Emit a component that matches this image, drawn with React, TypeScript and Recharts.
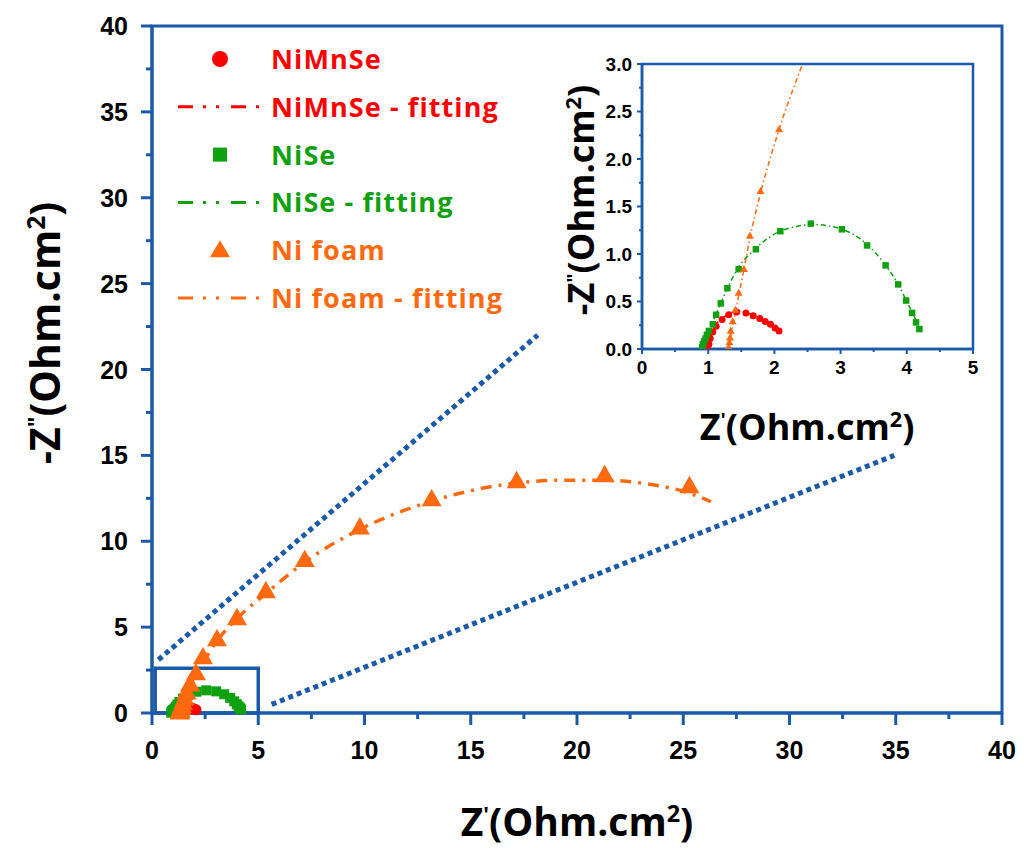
import React from "react"
import {
  ComposedChart,
  Scatter,
  Line,
  XAxis,
  YAxis,
  ReferenceLine,
  ReferenceArea,
} from "recharts"

// ─── Colours / fonts ─────────────────────────────────────────────────────────
const BLUE = "#1b5aa8"
const RED = "#ff0000"
const GREEN = "#10a010"
const ORANGE = "#ff6a10"
const TICK_FONT = "'Liberation Sans', Arial, sans-serif"
const TITLE_FONT = "'Open Sans', 'Noto Sans', sans-serif"

// ─── Data (Z', -Z'' in Ohm.cm²) ──────────────────────────────────────────────
const niMnSePoints = [
  { x: 0.99, y: 0.02 }, { x: 1.01, y: 0.05 }, { x: 1.03, y: 0.11 }, { x: 1.07, y: 0.18 },
  { x: 1.12, y: 0.24 }, { x: 1.21, y: 0.31 }, { x: 1.31, y: 0.36 }, { x: 1.43, y: 0.39 },
  { x: 1.57, y: 0.38 }, { x: 1.68, y: 0.35 }, { x: 1.78, y: 0.32 }, { x: 1.86, y: 0.29 },
  { x: 1.94, y: 0.26 }, { x: 2.01, y: 0.22 }, { x: 2.07, y: 0.19 },
]
const niMnSeFit = [
  { x: 0.98, y: 0 }, { x: 1.03, y: 0.12 }, { x: 1.1, y: 0.24 }, { x: 1.21, y: 0.32 },
  { x: 1.31, y: 0.37 }, { x: 1.45, y: 0.4 }, { x: 1.57, y: 0.385 }, { x: 1.7, y: 0.345 },
  { x: 1.86, y: 0.29 }, { x: 2.07, y: 0.19 },
]

const niSePoints = [
  { x: 0.91, y: 0.02 }, { x: 0.92, y: 0.05 }, { x: 0.94, y: 0.08 }, { x: 0.96, y: 0.11 },
  { x: 0.98, y: 0.15 }, { x: 1.01, y: 0.19 }, { x: 1.07, y: 0.26 }, { x: 1.12, y: 0.36 },
  { x: 1.19, y: 0.48 }, { x: 1.29, y: 0.64 }, { x: 1.46, y: 0.84 }, { x: 1.72, y: 1.05 },
  { x: 2.09, y: 1.24 }, { x: 2.55, y: 1.32 }, { x: 3.02, y: 1.26 }, { x: 3.4, y: 1.09 },
  { x: 3.68, y: 0.88 }, { x: 3.87, y: 0.68 }, { x: 3.99, y: 0.51 }, { x: 4.08, y: 0.38 },
  { x: 4.14, y: 0.28 }, { x: 4.19, y: 0.21 },
]
const niSeFit = [
  { x: 0.88, y: 0 }, { x: 0.95, y: 0.1 }, { x: 1.05, y: 0.25 }, { x: 1.2, y: 0.5 },
  { x: 1.45, y: 0.85 }, { x: 1.72, y: 1.06 }, { x: 2.09, y: 1.24 }, { x: 2.6, y: 1.31 },
  { x: 3.02, y: 1.26 }, { x: 3.4, y: 1.1 }, { x: 3.68, y: 0.88 }, { x: 3.87, y: 0.68 },
  { x: 4.0, y: 0.5 }, { x: 4.1, y: 0.36 }, { x: 4.2, y: 0.2 },
]

const niFoamPoints = [
  { x: 1.31, y: 0.02 }, { x: 1.32, y: 0.07 }, { x: 1.33, y: 0.12 }, { x: 1.34, y: 0.19 },
  { x: 1.37, y: 0.29 }, { x: 1.41, y: 0.41 }, { x: 1.46, y: 0.59 }, { x: 1.54, y: 0.84 },
  { x: 1.63, y: 1.19 }, { x: 1.79, y: 1.66 }, { x: 2.07, y: 2.31 }, { x: 2.4, y: 3.24 },
  { x: 3.06, y: 4.29 }, { x: 4.0, y: 5.52 }, { x: 5.36, y: 7.09 }, { x: 7.19, y: 8.9 },
  { x: 9.78, y: 10.8 }, { x: 13.16, y: 12.44 }, { x: 17.16, y: 13.49 }, { x: 21.3, y: 13.84 },
  { x: 25.29, y: 13.2 },
]
const niFoamFit = [
  { x: 1.3, y: 0 }, { x: 1.4, y: 0.35 }, { x: 1.54, y: 0.84 }, { x: 1.63, y: 1.17 },
  { x: 1.79, y: 1.64 }, { x: 2.07, y: 2.31 }, { x: 2.45, y: 3.05 }, { x: 3.06, y: 4.2 },
  { x: 4.0, y: 5.5 }, { x: 5.4, y: 7.0 }, { x: 7.2, y: 8.8 }, { x: 9.8, y: 10.7 },
  { x: 13.2, y: 12.35 }, { x: 17.2, y: 13.4 }, { x: 19.2, y: 13.55 }, { x: 21.3, y: 13.55 },
  { x: 23.5, y: 13.3 }, { x: 25.3, y: 12.8 }, { x: 26.3, y: 12.3 },
]

// dotted guide lines pointing from the zoom box to the inset
const guideUpper = [{ x: 0.3, y: 3.1 }, { x: 18.15, y: 22.0 }]
const guideLower = [{ x: 5.63, y: 0.5 }, { x: 34.93, y: 15.0 }]
const zoomBox = { x1: 0.15, x2: 5, y1: 0, y2: 2.6 }

// ticks
const mainTicks = [0, 2.5, 5, 7.5, 10, 12.5, 15, 17.5, 20, 22.5, 25, 27.5, 30, 32.5, 35, 37.5, 40]
const insetXTicks = [0, 0.5, 1, 1.5, 2, 2.5, 3, 3.5, 4, 4.5, 5]
const insetYTicks = [0, 0.25, 0.5, 0.75, 1, 1.25, 1.5, 1.75, 2, 2.25, 2.5, 2.75, 3]

const legendItems = [
  { label: "NiMnSe", color: RED, kind: "circle" },
  { label: "NiMnSe - fitting", color: RED, kind: "line" },
  { label: "NiSe", color: GREEN, kind: "square" },
  { label: "NiSe - fitting", color: GREEN, kind: "line" },
  { label: "Ni foam", color: ORANGE, kind: "triangle" },
  { label: "Ni foam - fitting", color: ORANGE, kind: "line" },
]

// ─── Marker shapes ───────────────────────────────────────────────────────────
const circleShape = (r: number, fill: string) => (p: any) =>
  <circle cx={p.cx} cy={p.cy} r={r} fill={fill} />
const squareShape = (s: number, fill: string) => (p: any) =>
  <rect x={p.cx - s / 2} y={p.cy - s / 2} width={s} height={s} fill={fill} />
const triangleShape = (s: number, fill: string) => (p: any) => {
  const h = s * 0.87
  return (
    <polygon
      points={`${p.cx},${p.cy - h * 0.6} ${p.cx - s / 2},${p.cy + h * 0.4} ${p.cx + s / 2},${p.cy + h * 0.4}`}
      fill={fill}
    />
  )
}

// ─── Tick renderers ──────────────────────────────────────────────────────────
function MainXTick({ x, y, payload }: any) {
  const v = payload.value
  const major = v % 5 === 0
  return (
    <g>
      <line x1={x} x2={x} y1={y} y2={y + (major ? 12 : 6)} stroke={BLUE} strokeWidth={3} />
      {major && (
        <text x={x} y={y + 46} textAnchor="middle" fontFamily={TICK_FONT} fontWeight={700} fontSize={25} fill="#000">
          {v}
        </text>
      )}
    </g>
  )
}

function MainYTick({ x, y, payload }: any) {
  const v = payload.value
  const major = v % 5 === 0
  return (
    <g>
      <line x1={x - (major ? 11 : 6)} x2={x} y1={y} y2={y} stroke={BLUE} strokeWidth={3} />
      {major && (
        <text x={x - 24} y={y + 9} textAnchor="end" fontFamily={TICK_FONT} fontWeight={700} fontSize={25} fill="#000">
          {v}
        </text>
      )}
    </g>
  )
}

const isMult = (v: number, step: number) => Math.abs(v / step - Math.round(v / step)) < 1e-6

function InsetXTick({ x, y, payload }: any) {
  const v = payload.value
  const major = isMult(v, 1)
  return (
    <g>
      <line x1={x} x2={x} y1={y} y2={y + (major ? 5 : 3)} stroke={BLUE} strokeWidth={2} />
      {major && (
        <text x={x} y={y + 25} textAnchor="middle" fontFamily={TICK_FONT} fontWeight={700} fontSize={19} fill="#000">
          {v}
        </text>
      )}
    </g>
  )
}

function InsetYTick({ x, y, payload }: any) {
  const v = payload.value
  const major = isMult(v, 0.5)
  return (
    <g>
      <line x1={x - (major ? 5 : 3)} x2={x} y1={y} y2={y} stroke={BLUE} strokeWidth={2} />
      {major && (
        <text x={x - 10} y={y + 6.5} textAnchor="end" fontFamily={TICK_FONT} fontWeight={700} fontSize={19} fill="#000">
          {v.toFixed(1)}
        </text>
      )}
    </g>
  )
}

// ─── Titles + legend overlay ─────────────────────────────────────────────────
function ZPrimeTitle({ x, y, size, rotate, double }: { x: number; y: number; size: number; rotate?: boolean; double?: boolean }) {
  const sup = size * 0.36
  return (
    <text
      x={x}
      y={y}
      textAnchor="middle"
      fontFamily={TITLE_FONT}
      fontWeight={700}
      fontSize={size}
      fill="#000"
      transform={rotate ? `rotate(-90 ${x} ${y})` : undefined}
    >
      {double ? "-Z" : "Z"}
      <tspan dy={-sup} fontSize={size * 0.55}>{double ? "\"" : "'"}</tspan>
      <tspan dy={sup}>(Ohm.cm</tspan>
      <tspan dy={-sup} fontSize={size * 0.6}>2</tspan>
      <tspan dy={sup}>)</tspan>
    </text>
  )
}

function LegendOverlay() {
  const rowY0 = 59
  const step = 47.8
  return (
    <g>
      {legendItems.map((it, i) => {
        const cy = rowY0 + i * step
        let mark: React.ReactNode = null
        if (it.kind === "circle") mark = <circle cx={220} cy={cy} r={8} fill={it.color} />
        if (it.kind === "square") mark = <rect x={213} y={cy - 7} width={14} height={14} fill={it.color} />
        if (it.kind === "triangle")
          mark = <polygon points={`220,${cy - 10} 210,${cy + 7} 230,${cy + 7}`} fill={it.color} />
        if (it.kind === "line")
          mark = (
            <line x1={178} x2={262} y1={cy} y2={cy} stroke={it.color} strokeWidth={3} strokeDasharray="15 10 3 10 3 12" />
          )
        return (
          <g key={it.label}>
            {mark}
            <text x={271} y={cy + 10} fontFamily={TITLE_FONT} fontWeight={700} fontSize={27} letterSpacing={1.1} fill={it.color}>
              {it.label}
            </text>
          </g>
        )
      })}
    </g>
  )
}

// ─── Main component ──────────────────────────────────────────────────────────
export default function App() {
  const axisLine = { stroke: BLUE, strokeWidth: 3 }
  return (
    <div style={{ position: "absolute", left: 0, top: 0, width: 1024, height: 848, background: "#fff" }}>
      {/* main Nyquist plot */}
      <div style={{ position: "absolute", left: 0, top: 0 }}>
        <ComposedChart width={1024} height={848} margin={{ top: 26, right: 22, left: 0, bottom: 0 }}>
          <XAxis
            dataKey="x"
            type="number"
            domain={[0, 40]}
            ticks={mainTicks}
            interval={0}
            height={135}
            tickSize={0}
            tickMargin={0}
            tickLine={false}
            axisLine={axisLine}
            tick={<MainXTick />}
          />
          <YAxis
            dataKey="y"
            type="number"
            domain={[0, 40]}
            ticks={mainTicks}
            interval={0}
            width={152}
            tickSize={0}
            tickMargin={0}
            tickLine={false}
            axisLine={axisLine}
            tick={<MainYTick />}
          />
          <ReferenceArea x1={0} x2={40} y1={0} y2={40} fill="none" fillOpacity={0} stroke={BLUE} strokeWidth={3} />
          <ReferenceLine segment={guideUpper} stroke={BLUE} strokeWidth={5} strokeDasharray="5 4" ifOverflow="visible" />
          <ReferenceLine segment={guideLower} stroke={BLUE} strokeWidth={5} strokeDasharray="5 4" ifOverflow="visible" />

          <Line data={niMnSeFit} dataKey="y" type="monotone" stroke={RED} strokeWidth={3} strokeDasharray="10 6 3 6" dot={false} activeDot={false} isAnimationActive={false} />
          <Line data={niSeFit} dataKey="y" type="monotone" stroke={GREEN} strokeWidth={3} strokeDasharray="10 6 3 6" dot={false} activeDot={false} isAnimationActive={false} />
          <Line data={niFoamFit} dataKey="y" type="monotone" stroke={ORANGE} strokeWidth={3.5} strokeDasharray="11 7 3 7" dot={false} activeDot={false} isAnimationActive={false} />

          <Scatter data={niMnSePoints} dataKey="y" fill={RED} shape={circleShape(5.5, RED)} isAnimationActive={false} />
          <Scatter data={niSePoints} dataKey="y" fill={GREEN} shape={squareShape(10, GREEN)} isAnimationActive={false} />
          <Scatter data={niFoamPoints} dataKey="y" fill={ORANGE} shape={triangleShape(20, ORANGE)} isAnimationActive={false} />

          <ReferenceArea x1={zoomBox.x1} x2={zoomBox.x2} y1={zoomBox.y1} y2={zoomBox.y2} fill="none" fillOpacity={0} stroke={BLUE} strokeWidth={3.5} />
        </ComposedChart>
      </div>

      {/* inset zoom */}
      <div style={{ position: "absolute", left: 0, top: 0, pointerEvents: "none" }}>
        <ComposedChart width={1024} height={848} margin={{ top: 64, right: 51, left: 0, bottom: 0 }}>
          <XAxis
            dataKey="x"
            type="number"
            domain={[0, 5]}
            allowDataOverflow
            ticks={insetXTicks}
            interval={0}
            height={499}
            tickSize={0}
            tickMargin={0}
            tickLine={false}
            axisLine={{ stroke: BLUE, strokeWidth: 2.5 }}
            tick={<InsetXTick />}
          />
          <YAxis
            dataKey="y"
            type="number"
            domain={[0, 3]}
            allowDataOverflow
            ticks={insetYTicks}
            interval={0}
            width={642}
            tickSize={0}
            tickMargin={0}
            tickLine={false}
            axisLine={{ stroke: BLUE, strokeWidth: 2.5 }}
            tick={<InsetYTick />}
          />
          <ReferenceArea x1={0} x2={5} y1={0} y2={3} fill="#fff" fillOpacity={0} stroke={BLUE} strokeWidth={2.5} />

          <Line data={niMnSeFit} dataKey="y" type="monotone" stroke={RED} strokeWidth={1.5} strokeDasharray="5 3 1.5 3" dot={false} activeDot={false} isAnimationActive={false} />
          <Line data={niSeFit} dataKey="y" type="monotone" stroke={GREEN} strokeWidth={1.5} strokeDasharray="5 3 1.5 3" dot={false} activeDot={false} isAnimationActive={false} />
          <Line data={niFoamFit} dataKey="y" type="monotone" stroke={ORANGE} strokeWidth={1.5} strokeDasharray="5 3 1.5 3" dot={false} activeDot={false} isAnimationActive={false} />

          <Scatter data={niMnSePoints} dataKey="y" fill={RED} shape={circleShape(3.5, RED)} isAnimationActive={false} />
          <Scatter data={niSePoints} dataKey="y" fill={GREEN} shape={squareShape(6.5, GREEN)} isAnimationActive={false} />
          <Scatter data={niFoamPoints} dataKey="y" fill={ORANGE} shape={triangleShape(8, ORANGE)} isAnimationActive={false} />
        </ComposedChart>
      </div>

      {/* titles and legend */}
      <svg width={1024} height={848} style={{ position: "absolute", left: 0, top: 0, pointerEvents: "none" }}>
        <ZPrimeTitle x={577} y={836} size={39} />
        <ZPrimeTitle x={60} y={333} size={41} rotate double />
        <ZPrimeTitle x={807} y={440} size={36} />
        <ZPrimeTitle x={594} y={200} size={36} rotate double />
        <LegendOverlay />
      </svg>
    </div>
  )
}
